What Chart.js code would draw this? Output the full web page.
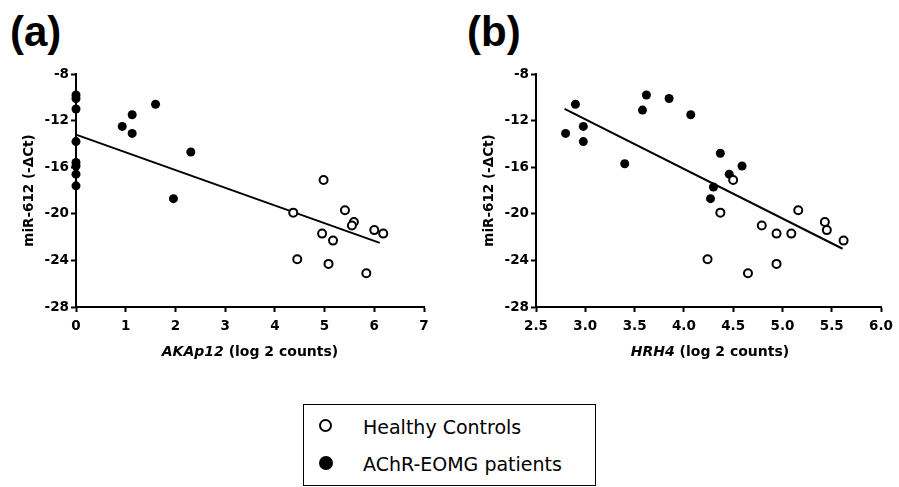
<!DOCTYPE html>
<html>
<head>
<meta charset="utf-8">
<script src="https://cdn.jsdelivr.net/npm/chart.js@4.4.1/dist/chart.umd.min.js"></script>
<style>
  html, body { margin: 0; padding: 0; background: #fff; }
  body { width: 899px; height: 487px; position: relative; overflow: hidden; font-family: 'DejaVu Sans', sans-serif; color: #000; }
  canvas { position: absolute; top: 0; }
  #chartA { left: 0; }
  #chartB { left: 460px; }
  .panel { position: absolute; top: 11px; font: bold 42px/42px 'Liberation Sans', Arial, sans-serif; }
  .xtitle { position: absolute; top: 343px; width: 348px; text-align: center; font-weight: bold; font-size: 14px; line-height: 17px; white-space: nowrap; }
  .legend { position: absolute; left: 303px; top: 404px; width: 293px; height: 82px; border: 1.5px solid #000; box-sizing: border-box; }
  .mk { position: absolute; border-radius: 50%; box-sizing: border-box; }
  .lt { position: absolute; left: 363px; font-size: 19px; line-height: 22px; white-space: nowrap; }
</style>
</head>
<body>
<div class="panel" style="left:10px">(a)</div>
<div class="panel" style="left:467px">(b)</div>

<canvas id="chartA" width="450" height="380"></canvas>
<canvas id="chartB" width="439" height="380"></canvas>

<div class="xtitle" style="left:76px"><i>AKAp12</i> (log 2 counts)</div>
<div class="xtitle" style="left:536px"><i>HRH4</i> (log 2 counts)</div>

<div class="legend"></div>
<div class="mk" style="left:318.5px; top:418.5px; width:13px; height:13px; border:2.5px solid #000; background:#fff"></div>
<div class="mk" style="left:319px; top:456px; width:14px; height:14px; background:#000"></div>
<div class="lt" style="top:416px">Healthy Controls</div>
<div class="lt" style="top:453px">AChR-EOMG patients</div>

<script>
// ── Données ────────────────────────────────────────────────────
// (a) AKAp12
const akapControlsX = [4.37, 4.45, 4.98, 4.95, 5.17, 5.08, 5.41, 5.59, 5.55, 6.00, 6.18, 5.84];
const akapControlsY = [-19.9, -23.9, -17.1, -21.7, -22.3, -24.3, -19.7, -20.7, -21.0, -21.4, -21.7, -25.1];
const akapPatientsX = [0, 0, 0, 0, 0, 0, 0, 0, 0.93, 1.13, 1.13, 1.60, 2.31, 1.96];
const akapPatientsY = [-9.8, -10.1, -11.0, -13.8, -15.6, -15.9, -16.6, -17.6, -12.5, -11.5, -13.1, -10.6, -14.7, -18.7];
const akapFitX = [0, 6.11];
const akapFitY = [-13.2, -22.5];

// (b) HRH4
const hrh4ControlsX = [4.50, 4.37, 4.24, 4.79, 4.94, 4.94, 5.09, 4.65, 5.16, 5.43, 5.45, 5.62];
const hrh4ControlsY = [-17.1, -19.9, -23.9, -21.0, -21.7, -24.3, -21.7, -25.1, -19.7, -20.7, -21.4, -22.3];
const hrh4PatientsX = [2.80, 2.90, 2.98, 2.98, 3.40, 3.58, 3.62, 3.85, 4.07, 4.37, 4.59, 4.46, 4.30, 4.27];
const hrh4PatientsY = [-13.1, -10.6, -12.5, -13.8, -15.7, -11.1, -9.8, -10.1, -11.5, -14.8, -15.9, -16.6, -17.7, -18.7];
const hrh4FitX = [2.79, 5.61];
const hrh4FitY = [-11.0, -23.0];

// Graduations
const yTicks = [-8, -12, -16, -20, -24, -28];
const xTicksA = [0, 1, 2, 3, 4, 5, 6, 7];
const xTicksB = [2.5, 3.0, 3.5, 4.0, 4.5, 5.0, 5.5, 6.0];

const FONT = 'DejaVu Sans';

function pts(xs, ys) {
  return xs.map((x, i) => ({ x, y: ys[i] }));
}

function makeChart(id, cfg) {
  const ctx = document.getElementById(id);
  return new Chart(ctx, {
    type: 'scatter',
    data: {
      datasets: [
        {
          label: 'Healthy Controls',
          data: pts(cfg.ctrlX, cfg.ctrlY),
          pointRadius: 4,
          pointBorderWidth: 2,
          pointBackgroundColor: '#fff',
          pointBorderColor: '#000',
          order: 0,
        },
        {
          label: 'AChR-EOMG patients',
          data: pts(cfg.patX, cfg.patY),
          pointRadius: 4.5,
          pointBorderWidth: 0,
          pointBackgroundColor: '#000',
          pointBorderColor: '#000',
          order: 1,
        },
        {
          label: 'fit',
          data: pts(cfg.fitX, cfg.fitY),
          showLine: true,
          pointRadius: 0,
          borderColor: '#000',
          borderWidth: 2,
          order: 2,
        },
      ],
    },
    options: {
      responsive: false,
      animation: false,
      events: [],
      clip: false,
      layout: { padding: { left: 0, top: 74, right: cfg.padRight, bottom: 0 } },
      plugins: { legend: { display: false }, tooltip: { enabled: false } },
      scales: {
        x: {
          type: 'linear',
          min: cfg.xMin,
          max: cfg.xMax,
          afterBuildTicks: s => { s.ticks = cfg.xTicks.map(v => ({ value: v })); },
          afterFit: s => { s.height = 73; },
          border: { color: '#000', width: 2 },
          grid: { drawOnChartArea: false, drawTicks: true, tickLength: 5, tickWidth: 2, tickColor: '#000' },
          ticks: {
            color: '#000',
            padding: 6,
            maxRotation: 0,
            autoSkip: false,
            font: { family: FONT, size: 13.5, weight: 'bold' },
            callback: v => cfg.xFmt(v),
          },
        },
        y: {
          type: 'linear',
          min: -28,
          max: -8,
          afterBuildTicks: s => { s.ticks = yTicks.map(v => ({ value: v })); },
          afterFit: s => { s.width = 76; },
          border: { color: '#000', width: 2 },
          grid: { drawOnChartArea: false, drawTicks: true, tickLength: 5, tickWidth: 2, tickColor: '#000' },
          ticks: {
            color: '#000',
            padding: 2,
            autoSkip: false,
            font: { family: FONT, size: 13.5, weight: 'bold' },
          },
          title: {
            display: true,
            text: 'miR-612 (-ΔCt)',
            color: '#000',
            font: { family: FONT, size: 13.5, weight: 'bold' },
            padding: { top: 21, bottom: 0 },
          },
        },
      },
    },
  });
}

makeChart('chartA', {
  ctrlX: akapControlsX, ctrlY: akapControlsY,
  patX: akapPatientsX, patY: akapPatientsY,
  fitX: akapFitX, fitY: akapFitY,
  xMin: 0, xMax: 7, xTicks: xTicksA, xFmt: v => String(v),
  padRight: 26,
});

makeChart('chartB', {
  ctrlX: hrh4ControlsX, ctrlY: hrh4ControlsY,
  patX: hrh4PatientsX, patY: hrh4PatientsY,
  fitX: hrh4FitX, fitY: hrh4FitY,
  xMin: 2.5, xMax: 6, xTicks: xTicksB, xFmt: v => v.toFixed(1),
  padRight: 14,
});
</script>
</body>
</html>
